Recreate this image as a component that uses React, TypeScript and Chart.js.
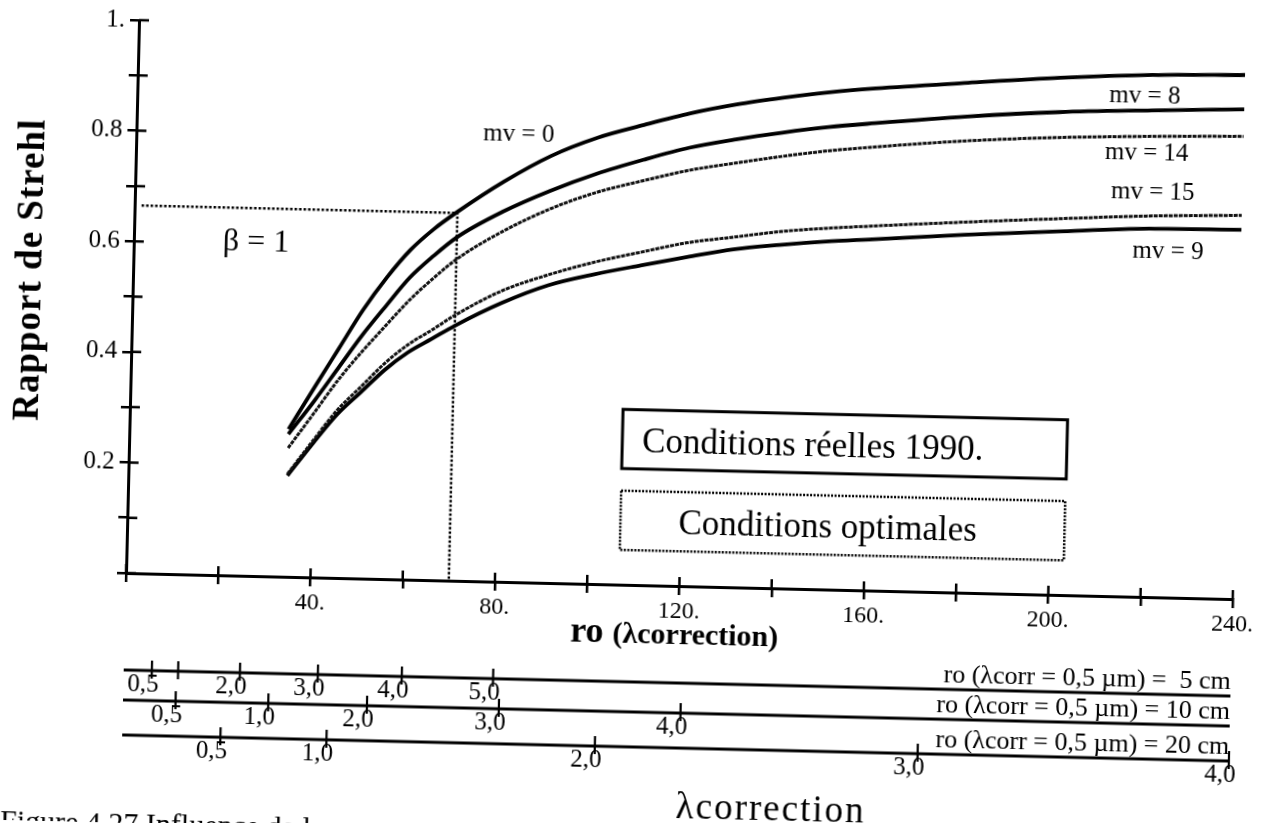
import React, { useEffect, useRef } from 'react';
import { Chart, registerables } from 'chart.js';

Chart.register(...registerables);

// ---- data ----
const roValues = [34.5, 40, 45, 50, 55, 60, 65, 70, 80, 90, 100, 110, 120, 130, 140, 150, 160, 180, 200, 220, 240];
const strehlMv0 = [0.267, 0.345, 0.415, 0.485, 0.545, 0.596, 0.635, 0.667, 0.724, 0.772, 0.807, 0.832, 0.855, 0.873, 0.887, 0.899, 0.908, 0.922, 0.935, 0.944, 0.948];
const strehlMv8 = [0.258, 0.32, 0.38, 0.44, 0.494, 0.546, 0.586, 0.621, 0.67, 0.709, 0.742, 0.769, 0.793, 0.81, 0.824, 0.836, 0.845, 0.861, 0.873, 0.88, 0.886];
const strehlMv14 = [0.233, 0.298, 0.358, 0.41, 0.458, 0.505, 0.545, 0.581, 0.634, 0.676, 0.708, 0.731, 0.752, 0.767, 0.781, 0.793, 0.802, 0.817, 0.827, 0.833, 0.837];
const strehlMv15 = [0.186, 0.249, 0.304, 0.347, 0.39, 0.425, 0.452, 0.48, 0.526, 0.557, 0.582, 0.602, 0.621, 0.633, 0.645, 0.653, 0.659, 0.67, 0.68, 0.689, 0.694];
const strehlMv9 = [0.183, 0.244, 0.296, 0.337, 0.378, 0.411, 0.436, 0.461, 0.504, 0.538, 0.56, 0.578, 0.595, 0.611, 0.621, 0.629, 0.635, 0.647, 0.657, 0.666, 0.668];

const betaRo = [1.5, 70, 70];
const betaStrehl = [0.665, 0.665, 0];

const yTickText = ['', '', '0.2', '', '0.4', '', '0.6', '', '0.8', '', '1.'];
const xTickText = ['', '', '40.', '', '80.', '', '120.', '', '160.', '', '200.', '', '240.'];

const curveLabelText = ['mv = 0', 'mv = 8', 'mv = 14', 'mv = 15', 'mv = 9'];
const curveLabelRo = [82.9, 218.4, 219.1, 220.6, 224.2];
const curveLabelStrehl = [0.81, 0.905, 0.802, 0.731, 0.624];

const boxText = ['Conditions réelles 1990.', 'Conditions optimales'];
const boxRo = [[106.9, 203.3], [106.9, 203.2]];
const boxStrehl = [[0.317, 0.21], [0.17, 0.063]];
const boxTextRo = [111.2, 119.5];
const boxTextStrehl = [0.2566, 0.1106];

const row1Ro = [6.1, 11.8, 25.2, 42.1, 60.3, 80.1];
const row1Text = ['0,5', '', '2,0', '3,0', '4,0', '5,0'];
const row2Ro = [11.4, 31.5, 52.9, 81.5, 120.9];
const row2Text = ['0,5', '1,0', '2,0', '3,0', '4,0'];
const row3Ro = [21.3, 44.3, 102.5, 172.5, 240];
const row3Text = ['0,5', '1,0', '2,0', '3,0', '4,0'];
const rowCaptions = ['ro (λcorr = 0,5 µm) =  5 cm', 'ro (λcorr = 0,5 µm) = 10 cm', 'ro (λcorr = 0,5 µm) = 20 cm'];

const SERIF = '"Liberation Serif", "Times New Roman", serif';
const W = 1265;
const H = 823;

const overlay = {
  id: 'overlay',
  afterDraw(chart: any) {
    const { ctx, chartArea: ca } = chart;
    const xs = chart.scales.x;
    const ys = chart.scales.y;
    const X = (v: number) => xs.getPixelForValue(v);
    const Y = (v: number) => ys.getPixelForValue(v);
    ctx.save();
    ctx.strokeStyle = '#000';
    ctx.fillStyle = '#000';
    ctx.lineCap = 'butt';

    // inward halves of the crossing tick marks
    ctx.lineWidth = 2.5;
    ctx.beginPath();
    ys.ticks.forEach((t: any) => {
      const py = Y(t.value);
      ctx.moveTo(ca.left, py);
      ctx.lineTo(ca.left + 10, py);
    });
    xs.ticks.forEach((t: any) => {
      const px = X(t.value);
      ctx.moveTo(px, ca.bottom);
      ctx.lineTo(px, ca.bottom - 9);
    });
    ctx.stroke();

    // curve labels
    ctx.textAlign = 'center';
    ctx.textBaseline = 'middle';
    ctx.font = `25px ${SERIF}`;
    curveLabelText.forEach((t, i) => ctx.fillText(t, X(curveLabelRo[i]), Y(curveLabelStrehl[i])));
    ctx.font = `32px ${SERIF}`;
    ctx.fillText('β = 1', X(26.5), Y(0.603));

    // legend boxes
    boxText.forEach((t, i) => {
      const x0 = X(boxRo[i][0]);
      const x1 = X(boxRo[i][1]);
      const y0 = Y(boxStrehl[i][0]);
      const y1 = Y(boxStrehl[i][1]);
      ctx.lineWidth = i === 0 ? 3 : 2.5;
      ctx.setLineDash(i === 0 ? [] : [2, 1.5]);
      ctx.strokeRect(x0, y0, x1 - x0, y1 - y0);
      ctx.setLineDash([]);
      ctx.font = `35px ${SERIF}`;
      ctx.textAlign = 'left';
      ctx.textBaseline = 'middle';
      ctx.fillText(t, X(boxTextRo[i]), Y(boxTextStrehl[i]));
    });

    // x title
    const midX = (ca.left + ca.right) / 2 - 4;
    ctx.textBaseline = 'alphabetic';
    ctx.font = `bold 36px ${SERIF}`;
    const roW = ctx.measureText('ro ').width;
    ctx.font = `bold 30px ${SERIF}`;
    const restW = ctx.measureText('(λcorrection)').width;
    const startX = midX - (roW + restW) / 2;
    ctx.textAlign = 'left';
    ctx.font = `bold 36px ${SERIF}`;
    ctx.fillText('ro ', startX, ca.bottom + 58);
    ctx.font = `bold 30px ${SERIF}`;
    ctx.fillText('(λcorrection)', startX + roW, ca.bottom + 58);

    // secondary λ scales
    const rows = [
      { off: 97, ro: row1Ro, text: row1Text },
      { off: 127, ro: row2Ro, text: row2Text },
      { off: 162, ro: row3Ro, text: row3Text },
    ];
    rows.forEach((r, i) => {
      const ly = ca.bottom + r.off;
      ctx.lineWidth = 3;
      ctx.beginPath();
      ctx.moveTo(X(0), ly);
      ctx.lineTo(X(240), ly);
      ctx.stroke();
      ctx.lineWidth = 2.2;
      ctx.beginPath();
      r.ro.forEach((v) => {
        ctx.moveTo(X(v), ly - 10);
        ctx.lineTo(X(v), ly + 8);
      });
      ctx.stroke();
      ctx.font = `25px ${SERIF}`;
      ctx.textAlign = 'right';
      ctx.textBaseline = 'top';
      r.text.forEach((t, k) => {
        if (t) ctx.fillText(t, X(r.ro[k]) + 7, ly + 2);
      });
      ctx.textBaseline = 'alphabetic';
      ctx.font = `26px ${SERIF}`;
      ctx.fillText(rowCaptions[i], X(240), ly - 7);
    });

    // bottom axis title
    ctx.textAlign = 'center';
    ctx.textBaseline = 'middle';
    ctx.font = `37px ${SERIF}`;
    (ctx as any).letterSpacing = '2px';
    ctx.fillText('λcorrection', 776, 795);

    // y title
    ctx.save();
    ctx.translate(24, 272);
    ctx.rotate(-Math.PI / 2);
    ctx.font = `bold 37px ${SERIF}`;
    (ctx as any).letterSpacing = '1px';
    ctx.fillText('Rapport de Strehl', 0, 0);
    ctx.restore();
    (ctx as any).letterSpacing = '0px';

    // cut caption at the bottom of the page
    ctx.textAlign = 'left';
    ctx.textBaseline = 'alphabetic';
    ctx.font = `30px ${SERIF}`;
    ctx.fillText('Figure 4.27 Influence de la', 6, 833);

    ctx.restore();
  },
};

export default function App() {
  const ref = useRef<HTMLCanvasElement | null>(null);
  useEffect(() => {
    document.body.style.margin = '0';
    document.body.style.background = '#fff';
    const canvas = ref.current;
    if (!canvas) return;
    const solid = (label: string, vals: number[]) => ({
      label,
      data: roValues.map((r, i) => ({ x: r, y: vals[i] })),
      borderColor: '#000',
      borderWidth: 3.8,
      pointRadius: 0,
      cubicInterpolationMode: 'monotone' as const,
      fill: false,
    });
    const wavy = (label: string, vals: number[]) => ({
      ...solid(label, vals),
      borderWidth: 3,
      borderColor: '#111',
      borderDash: [4, 1],
    });
    const chart = new Chart(canvas, {
      type: 'line',
      data: {
        datasets: [
          solid('mv = 0', strehlMv0),
          solid('mv = 8', strehlMv8),
          wavy('mv = 14', strehlMv14),
          wavy('mv = 15', strehlMv15),
          solid('mv = 9', strehlMv9),
          {
            label: 'beta = 1',
            data: betaRo.map((r, i) => ({ x: r, y: betaStrehl[i] })),
            borderColor: '#000',
            borderWidth: 2.5,
            borderDash: [2.5, 2],
            pointRadius: 0,
            tension: 0,
            fill: false,
          },
        ],
      },
      options: {
        responsive: false,
        animation: false,
        devicePixelRatio: 1,
        layout: { padding: { top: 16, right: 32, left: 0, bottom: 0 } },
        plugins: { legend: { display: false }, tooltip: { enabled: false }, title: { display: false } },
        scales: {
          x: {
            type: 'linear',
            min: 0,
            max: 240,
            afterFit: (s: any) => {
              s.height = 250;
            },
            ticks: {
              stepSize: 20,
              autoSkip: false,
              maxRotation: 0,
              padding: 2,
              color: '#000',
              font: { family: SERIF, size: 24 },
              callback: (v: any) => xTickText[Math.round(Number(v) / 20)] ?? '',
            },
            grid: { drawOnChartArea: false, drawTicks: true, tickLength: 9, color: '#000', lineWidth: 2.5 },
            border: { display: true, color: '#000', width: 3 },
          },
          y: {
            type: 'linear',
            min: 0,
            max: 1,
            afterFit: (s: any) => {
              s.width = 126;
            },
            ticks: {
              stepSize: 0.1,
              autoSkip: false,
              padding: 5,
              color: '#000',
              font: { family: SERIF, size: 25 },
              callback: (v: any) => yTickText[Math.round(Number(v) * 10)] ?? '',
            },
            grid: { drawOnChartArea: false, drawTicks: true, tickLength: 9, color: '#000', lineWidth: 2.5 },
            border: { display: true, color: '#000', width: 3 },
          },
        },
      },
      plugins: [overlay],
    });
    return () => chart.destroy();
  }, []);

  return (
    <div style={{ position: 'absolute', left: 0, top: 0, width: W, height: H, overflow: 'hidden', background: '#fff' }}>
      <canvas
        ref={ref}
        width={W}
        height={H}
        style={{ width: W, height: H, display: 'block', transform: 'rotate(1.35deg)', transformOrigin: '126px 573px' }}
      />
    </div>
  );
}
